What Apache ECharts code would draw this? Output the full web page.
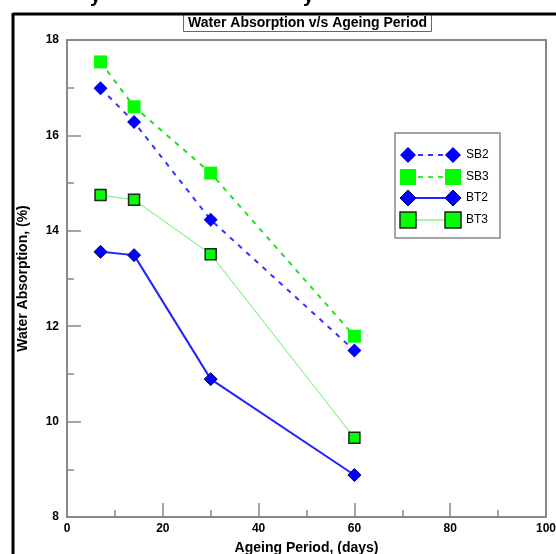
<!DOCTYPE html>
<html><head><meta charset="utf-8">
<script src="https://cdn.jsdelivr.net/npm/echarts@6/dist/echarts.min.js"></script>
<style>html,body{margin:0;padding:0;background:#fff;overflow:hidden}#c{width:556px;height:554px}</style>
</head><body><div id="c"></div>
<script>
const days = [7, 14, 30, 60];
const sb2 = [16.99, 16.28, 14.23, 11.49];
const sb3 = [17.54, 16.6, 15.21, 11.79];
const bt2 = [13.56, 13.49, 10.89, 8.88];
const bt3 = [14.75, 14.65, 13.51, 9.66];
const xTicks = [0, 20, 40, 60, 80, 100];
const yTicks = [8, 10, 12, 14, 16, 18];
const seriesNames = ['SB2', 'SB3', 'BT2', 'BT3'];

const pair = (ys) => days.map((d, i) => [d, ys[i]]);
const chart = echarts.init(document.getElementById('c'));

const legendStyles = [
  {sym:'diamond', fill:'#0000ff', stroke:null, color:'#3333ff', dash:[5,5], w:2},
  {sym:'rect', fill:'#00ff00', stroke:null, color:'#33ee33', dash:[5,5], w:2},
  {sym:'diamond', fill:'#0000ff', stroke:'#00006a', color:'#2222ff', dash:null, w:2},
  {sym:'rect', fill:'#00ff00', stroke:'#222222', color:'#55ee55', dash:null, w:1}
];
const legendYs = [155, 177, 198, 220];
const legendGraphics = [{
  type:'rect', shape:{x:395, y:133, width:105, height:105},
  style:{fill:'#fff', stroke:'#888', lineWidth:1.5}, z:10
}];
legendStyles.forEach((s, i) => {
  const y = legendYs[i];
  legendGraphics.push({type:'line', shape:{x1:408, y1:y, x2:453, y2:y},
    style:{stroke:s.color, lineWidth:s.w, lineDash:s.dash}, z:11});
  [408, 453].forEach(x => {
    if (s.sym === 'diamond') {
      legendGraphics.push({type:'polygon', shape:{points:[[x-8,y],[x,y-8],[x+8,y],[x,y+8]]},
        style:{fill:s.fill, stroke:s.stroke, lineWidth:s.stroke?1:0}, z:12});
    } else {
      legendGraphics.push({type:'rect', shape:{x:x-8, y:y-8, width:16, height:16},
        style:{fill:s.fill, stroke:s.stroke, lineWidth:s.stroke?1.5:0}, z:12});
    }
  });
  legendGraphics.push({type:'text', x:466, y:y, style:{text:seriesNames[i], fill:'#000',
    font:'12px Arial, "Liberation Sans"', textVerticalAlign:'middle'}, z:12});
});

const option = {
  backgroundColor:'#fff',
  animation:false,
  title:{text:'Water Absorption v/s Ageing Period', left:183, top:14,
    padding:[2,5,2,5], borderWidth:1, borderColor:'#666',
    textStyle:{fontFamily:'Arial, "Liberation Sans"', fontWeight:'bold', fontSize:14, color:'#000'}},
  grid:{left:67, right:10, top:40, bottom:37, show:true, borderColor:'#888', borderWidth:2,
    backgroundColor:'transparent', outerBoundsMode:'none', containLabel:false},
  xAxis:{type:'value', min:0, max:100, interval:20,
    name:'Ageing Period, (days)', nameLocation:'middle', nameGap:24,
    nameTextStyle:{fontFamily:'Arial, "Liberation Sans"', fontWeight:'bold', fontSize:14, color:'#000'},
    axisLine:{show:true, lineStyle:{color:'#888', width:2}},
    axisTick:{show:true, inside:true, length:14, lineStyle:{color:'#888', width:1.5}},
    minorTick:{show:true, splitNumber:2, length:7, lineStyle:{color:'#888', width:1.5}},
    splitLine:{show:false},
    axisLabel:{margin:6, color:'#000', fontFamily:'Arial, "Liberation Sans"', fontWeight:'bold', fontSize:12,
      formatter:(v)=> xTicks.includes(v) ? String(v) : ''}},
  yAxis:{type:'value', min:8, max:18, interval:2,
    name:'Water Absorption, (%)', nameLocation:'middle', nameGap:37,
    nameTextStyle:{fontFamily:'Arial, "Liberation Sans"', fontWeight:'bold', fontSize:14, color:'#000'},
    axisLine:{show:true, lineStyle:{color:'#888', width:2}},
    axisTick:{show:true, inside:true, length:14, lineStyle:{color:'#888', width:1.5}},
    minorTick:{show:true, splitNumber:2, length:7, lineStyle:{color:'#888', width:1.5}},
    splitLine:{show:false},
    axisLabel:{margin:8, color:'#000', fontFamily:'Arial, "Liberation Sans"', fontWeight:'bold', fontSize:12,
      formatter:(v)=> yTicks.includes(v) ? String(v) : ''}},
  series:[
    {name:'SB2', type:'line', data:pair(sb2), symbol:'diamond', symbolSize:14,
      itemStyle:{color:'#0000ff'}, lineStyle:{color:'#3333ff', width:2, type:[5,6]}, z:3},
    {name:'SB3', type:'line', data:pair(sb3), symbol:'rect', symbolSize:13,
      itemStyle:{color:'#00ff00'}, lineStyle:{color:'#22dd22', width:2, type:[5,6]}, z:3},
    {name:'BT2', type:'line', data:pair(bt2), symbol:'diamond', symbolSize:13,
      itemStyle:{color:'#0000ff', borderColor:'#00006a', borderWidth:1}, lineStyle:{color:'#2222ff', width:2}, z:3},
    {name:'BT3', type:'line', data:pair(bt3), symbol:'rect', symbolSize:11,
      itemStyle:{color:'#00ff00', borderColor:'#222', borderWidth:1.5}, lineStyle:{color:'#66ee66', width:1}, z:3}
  ],
  graphic:[
    {type:'line', shape:{x1:13, y1:14, x2:556, y2:14}, style:{stroke:'#000', lineWidth:3}, z:20},
    {type:'line', shape:{x1:13, y1:13, x2:13, y2:554}, style:{stroke:'#000', lineWidth:3}, z:20},
    {type:'text', x:90, y:-14, style:{text:'y', fill:'#000', font:'bold 20px Arial, "Liberation Sans"'}, z:20},
    {type:'text', x:303, y:-14, style:{text:'y', fill:'#000', font:'bold 20px Arial, "Liberation Sans"'}, z:20}
  ].concat(legendGraphics)
};
chart.setOption(option);
</script></body></html>
